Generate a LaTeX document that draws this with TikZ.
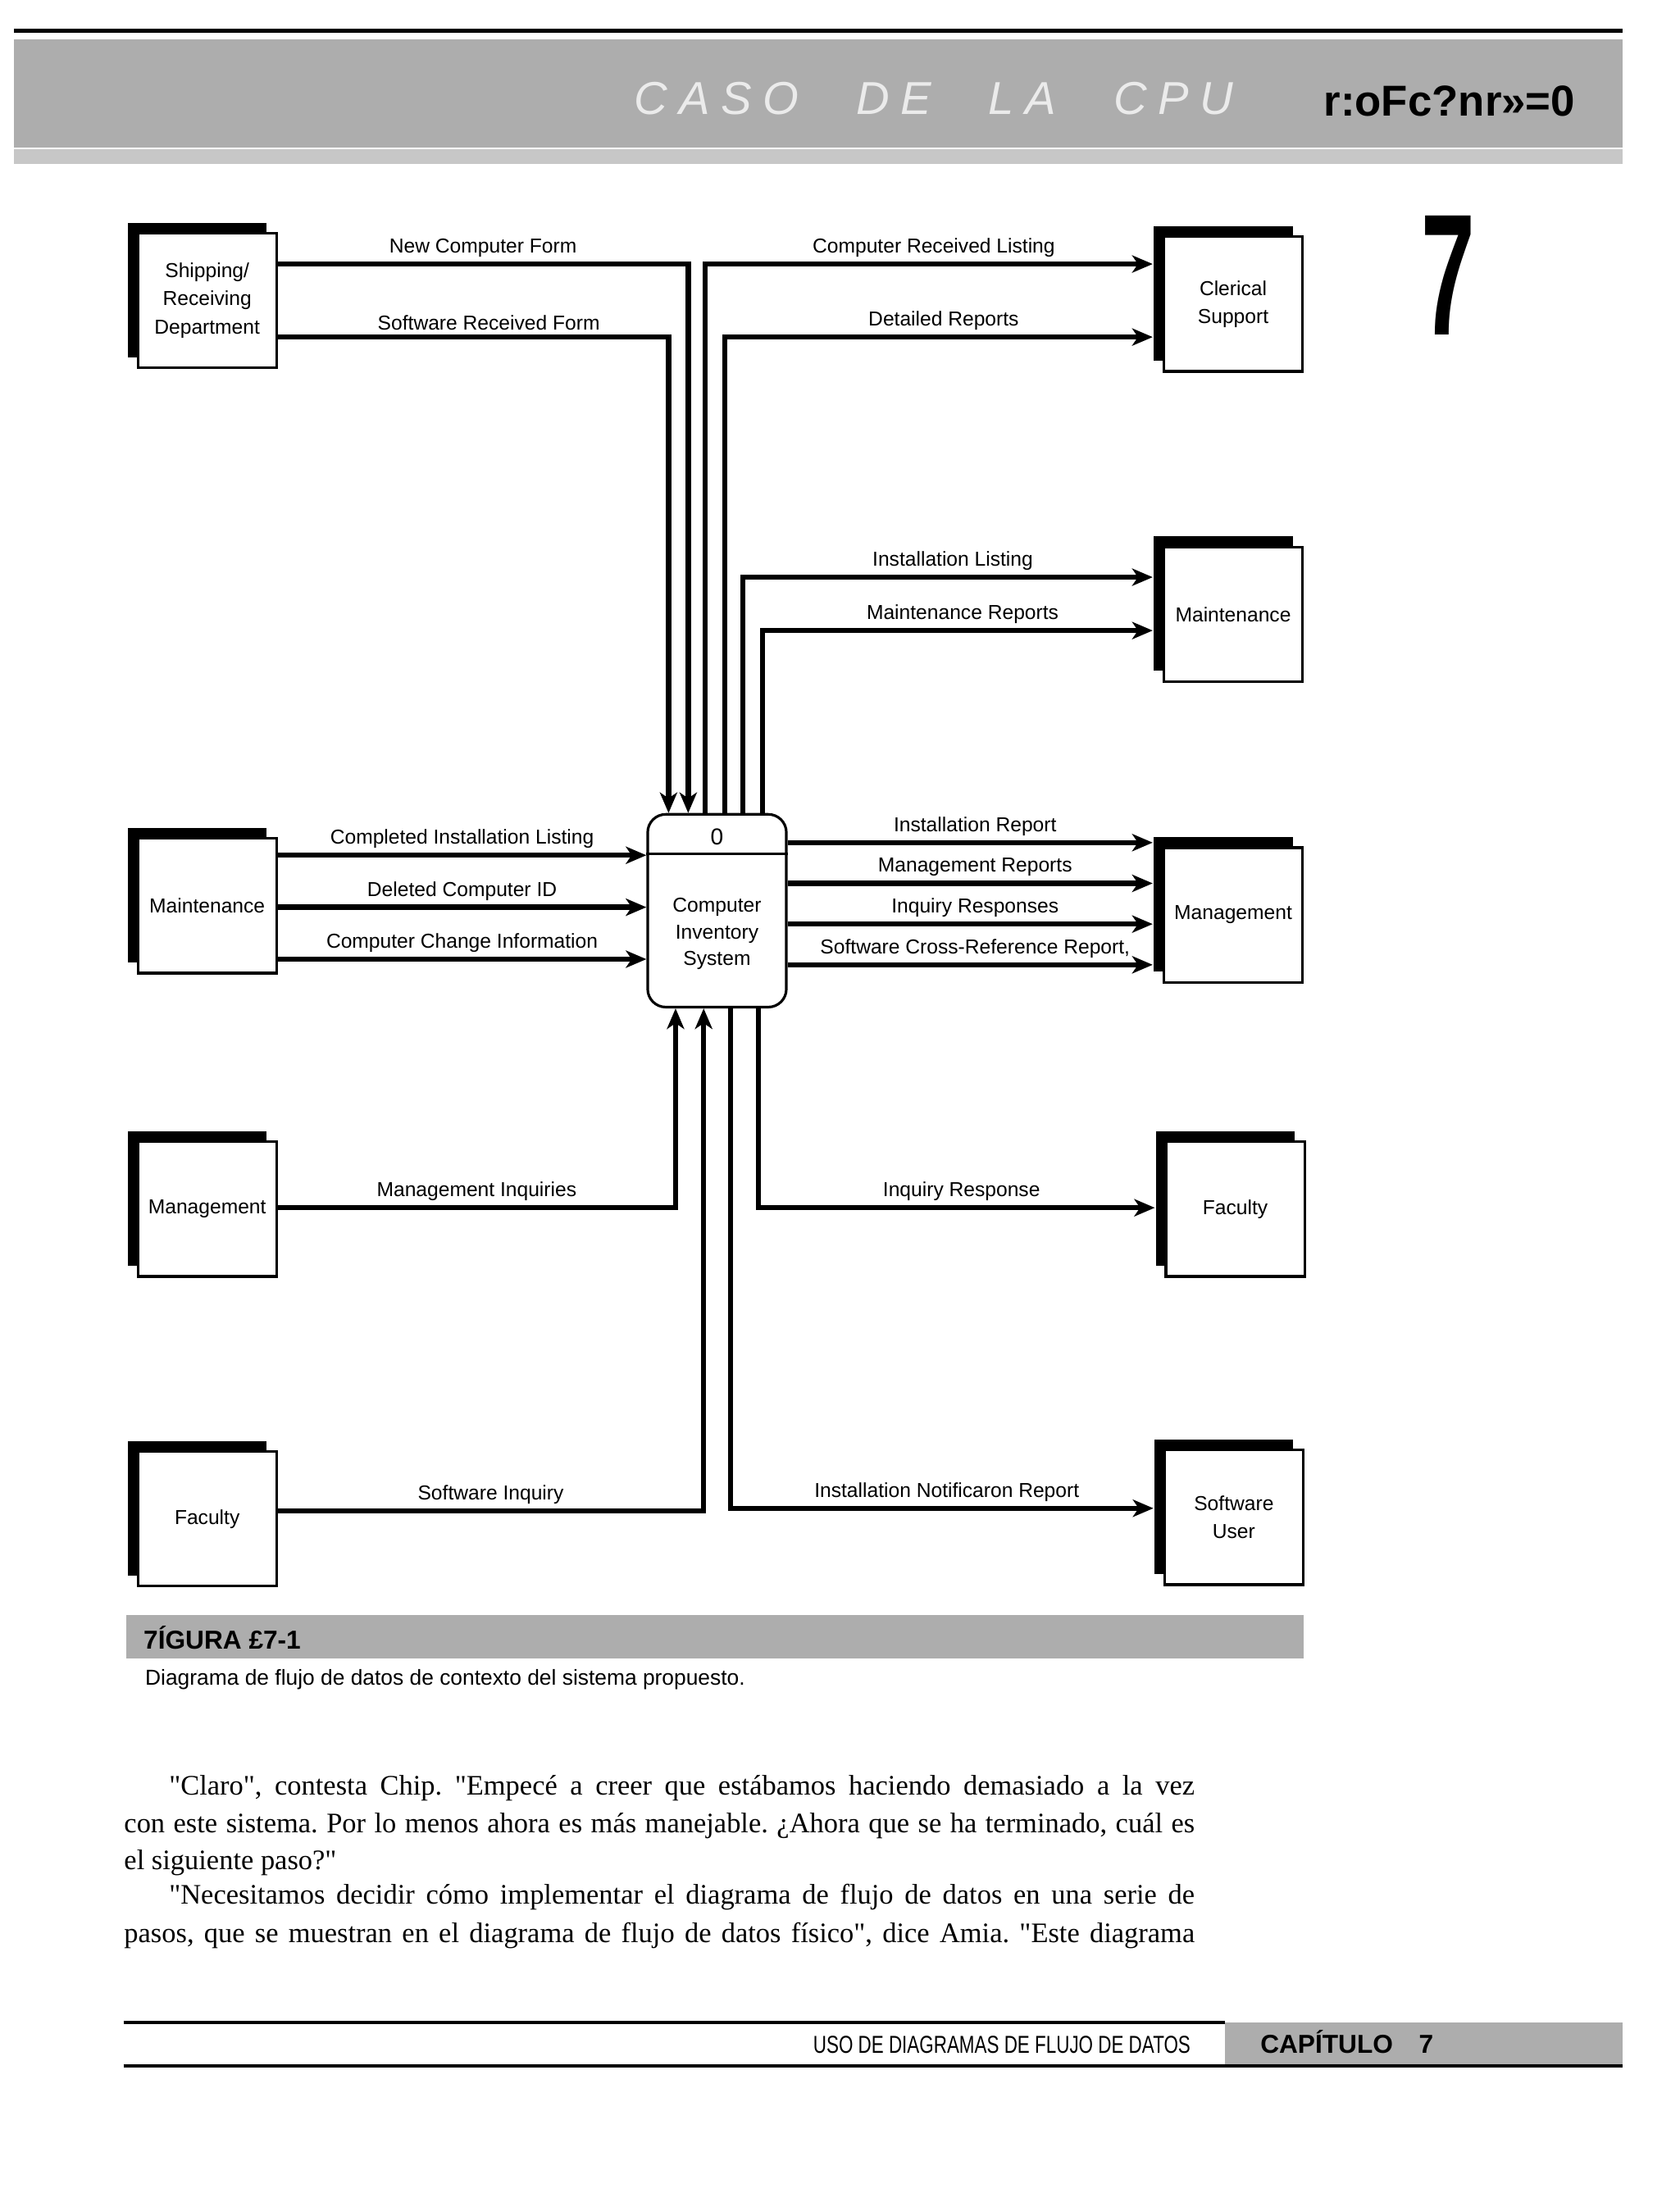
\documentclass[tikz,border=0pt]{standalone}
\usepackage{fontspec}
\setmainfont{Liberation Serif}[Ligatures=TeXOff]
\setsansfont{Liberation Sans}
\usepackage{tikz}
\usetikzlibrary{arrows.meta,positioning,shadows}
\frenchspacing

\begin{document}
\begin{tikzpicture}[
  x=0.017124cm, y=-0.017124cm,
  every node/.style={font=\sffamily\fontsize{7}{9.8}\selectfont},
  entity/.style={draw, line width=0.9pt, fill=white, minimum width=1.69cm, minimum height=1.64cm,
    align=center, inner sep=1pt,
    general shadow={fill=black, shadow xshift=-0.12cm, shadow yshift=0.13cm}},
  procbox/.style={draw, line width=0.9pt, rounded corners=0.22cm, minimum width=1.69cm, minimum height=2.35cm},
  lnk/.style={line width=1.8pt},
  arr/.style={lnk, -{Stealth[length=0.25cm, width=0.21cm, inset=0.07cm]}},
  arrto/.style={arr, shorten >=0.12cm},
  lbl/.style={above, inner sep=1.5pt},
  band/.style={fill=black!32, draw=none},
  textline/.style={anchor=base west, inner sep=0pt, font=\rmfamily\fontsize{9.8}{12}\selectfont}
]
  \useasboundingbox (0,0) rectangle (1196,1568);

  % page head
  \draw[line width=1.5pt] (10,22) -- (1155,22);
  \fill[band] (10,28) rectangle (1155,105);
  \fill[fill=black!22] (10,106) rectangle (1155,117);
  \node[text=black!8, font=\sffamily\itshape\fontsize{16}{16}\selectfont] (headtitle) at (665,70)
    {\makebox[7.3cm][s]{C A S O \quad D E \quad L A \quad C P U}};
  \node[font=\sffamily\bfseries\fontsize{15}{15}\selectfont] (headmark) at (1032,72) {r:oFc?nr»=0};
  \node[font=\sffamily\bfseries\fontsize{60}{60}\selectfont] (chapno) at (1031,196) {\scalebox{0.56}[1]{7}};

  % external entities
  \node[entity] (ship) at (147.5,214) {Shipping/\\Receiving\\Department};
  \node[entity] (maintl) at (147.5,645) {Maintenance};
  \node[entity] (mgmtl) at (147.5,861) {Management};
  \node[entity] (facl) at (147.5,1081.5) {Faculty};
  \node[entity] (clerk) at (878,216.5) {Clerical\\Support};
  \node[entity] (maintr) at (878,437.5) {Maintenance};
  \node[entity] (mgmtr) at (878,651.5) {Management};
  \node[entity] (facr) at (879.5,861) {Faculty};
  \node[entity] (swuser) at (878.5,1080.5) {Software\\User};

  % process
  \node[procbox] (cis) at (510.5,648.5) {};
  \draw[line width=0.9pt] (cis.west |- 0,608) -- (cis.east |- 0,608);
  \node (cisid) at (510.5,596) {\fontsize{8}{8}\selectfont 0};
  \node[align=center, font=\sffamily\fontsize{7}{9.2}\selectfont] (cisname) at (510.5,665) {Computer\\Inventory\\System};

  % flows in from the top
  \draw[arr] (ship.east |- 0,188) -| node[lbl, pos=0.25] {New Computer Form} (cis.north -| 490,0);
  \draw[arr] (ship.east |- 0,240) -| node[lbl, pos=0.27] {Software Received Form} (cis.north -| 476,0);

  % flows out of the top
  \draw[arrto] (cis.north -| 502,0) |- node[lbl, pos=0.75] {Computer Received Listing} (clerk.west |- 0,188);
  \draw[arrto] (cis.north -| 516,0) |- node[lbl, pos=0.75] {Detailed Reports} (clerk.west |- 0,240);
  \draw[arrto] (cis.north -| 529,0) |- node[lbl, pos=0.75] {Installation Listing} (maintr.west |- 0,411);
  \draw[arrto] (cis.north -| 543,0) |- node[lbl, pos=0.75] {Maintenance Reports} (maintr.west |- 0,449);

  % side flows
  \draw[arr] (maintl.east |- 0,609) -- node[lbl] {Completed Installation Listing} (cis.west |- 0,609);
  \draw[arr] (maintl.east |- 0,646) -- node[lbl] {Deleted Computer ID} (cis.west |- 0,646);
  \draw[arr] (maintl.east |- 0,683) -- node[lbl] {Computer Change Information} (cis.west |- 0,683);
  \draw[arrto] (cis.east |- 0,600) -- node[lbl] {Installation Report} (mgmtr.west |- 0,600);
  \draw[arrto] (cis.east |- 0,629) -- node[lbl] {Management Reports} (mgmtr.west |- 0,629);
  \draw[arrto] (cis.east |- 0,658) -- node[lbl] {Inquiry Responses} (mgmtr.west |- 0,658);
  \draw[arrto] (cis.east |- 0,687) -- node[lbl] {Software Cross-Reference Report,} (mgmtr.west |- 0,687);

  % flows at the bottom
  \draw[arr] (mgmtl.east |- 0,860) -| node[lbl, pos=0.25] {Management Inquiries} (cis.south -| 481,0);
  \draw[arr] (facl.east |- 0,1076) -| node[lbl, pos=0.25] {Software Inquiry} (cis.south -| 501,0);
  \draw[arrto] (cis.south -| 540,0) |- node[lbl, pos=0.75] {Inquiry Response} (facr.west |- 0,860);
  \draw[arrto] (cis.south -| 520,0) |- node[lbl, pos=0.75] {Installation Notificaron Report} (swuser.west |- 0,1074);

  % caption
  \fill[band] (90,1150) rectangle (928,1181);
  \node[anchor=west, font=\sffamily\bfseries\fontsize{9}{9}\selectfont] (figno) at (95,1166) {7ÍGURA £7-1};
  \node[anchor=base west, inner sep=0pt, font=\sffamily\fontsize{7.5}{9}\selectfont] (caption) at (103,1200)
    {Diagrama de flujo de datos de contexto del sistema propuesto.};

  % running text
  \node[textline] (para1) at (120,1278) {\makebox[12.50cm][s]{"Claro", contesta Chip. "Empecé a creer que estábamos haciendo demasiado a la vez}};
  \node[textline] (para2) at (88,1305) {\makebox[13.05cm][s]{con este sistema. Por lo menos ahora es más manejable. ¿Ahora que se ha terminado, cuál es}};
  \node[textline] (para3) at (88,1331) {el siguiente paso?"};
  \node[textline] (para4) at (120,1356) {\makebox[12.50cm][s]{"Necesitamos decidir cómo implementar el diagrama de flujo de datos en una serie de}};
  \node[textline] (para5) at (88,1383) {\makebox[13.05cm][s]{pasos, que se muestran en el diagrama de flujo de datos físico", dice Amia. "Este diagrama}};

  % page foot
  \fill[band] (872,1440) rectangle (1155,1472);
  \draw[line width=1.2pt] (88,1440) -- (872,1440);
  \draw[line width=1.2pt] (88,1471) -- (1155,1471);
  \node[anchor=base east, inner sep=0pt] (foottitle) at (848,1462)
    {\scalebox{0.75}[1]{\fontsize{8.5}{8.5}\selectfont USO DE DIAGRAMAS DE FLUJO DE DATOS}};
  \node[anchor=base west, inner sep=0pt, font=\sffamily\bfseries\fontsize{9}{9}\selectfont] (chapter) at (897,1462) {CAPÍTULO\quad 7};
\end{tikzpicture}
\end{document}
